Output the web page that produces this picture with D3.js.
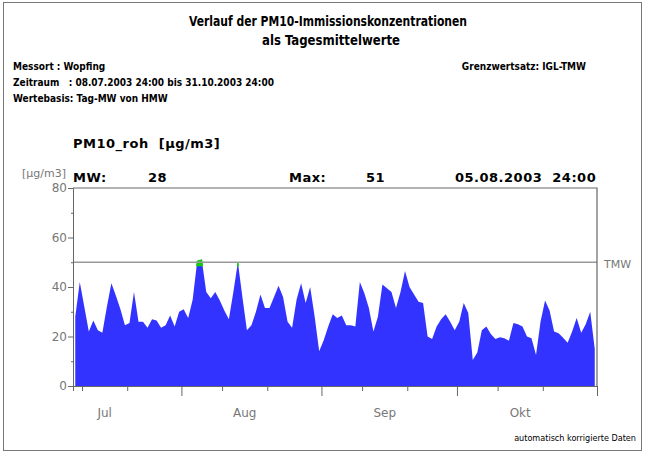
<!DOCTYPE html>
<meta charset="utf-8">
<script src="https://d3js.org/d3.v7.min.js"></script>
<style>
  body { margin: 0; background: #fff; }
  .narrow { font-family: "Liberation Sans Narrow", "DejaVu Sans Condensed", sans-serif; font-weight: bold; }
</style>
<div id="my_dataviz"></div>
<script>
// daily means PM10 Wopfing, 08.07.2003 - 31.10.2003
var firstDay = "2003-07-08";
var pm10 = [
  28, 42, 32, 22, 26.5, 22.5, 21.5, 32, 41.5, 36.5, 31, 24.5, 25.5, 38, 26, 26, 23.5, 27, 26.5, 23.5,
  24.5, 28.5, 24, 30, 31, 27.5, 35, 50.5, 51, 38, 35.5, 38, 34.5, 30.5, 27, 38, 50, 36, 22.5, 24.5,
  30, 37, 31.5, 31.5, 36, 40.5, 36, 26, 23.5, 35, 41.5, 33.5, 40, 28, 14, 18.5, 24, 29, 27.5, 28.5,
  24.5, 24.5, 24, 42, 37.5, 31.5, 22, 28, 41, 39.5, 38, 31.5, 38, 46.5, 40, 37, 34, 33.5, 20, 19,
  24, 27, 29, 26, 22.5, 26, 33.5, 29.5, 10.5, 13.5, 22.5, 24, 21, 19, 19.7, 19.3, 18.3, 25.5, 25, 24,
  20, 19.3, 12.5, 26, 34.5, 30.5, 22, 21.3, 19.5, 17.5, 22, 27.5, 21.5, 25, 30, 15
];
var mwValue = 28;
var maxValue = 51;
var maxTime = "05.08.2003  24:00";
var limitTMW = 50;
var yTicks = [0, 20, 40, 60, 80];
var monthNames = ["Jul", "Aug", "Sep", "Okt"];
var headerLeft = ["Messort : Wopfing", "Zeitraum   : 08.07.2003 24:00 bis 31.10.2003 24:00", "Wertebasis: Tag-MW von HMW"];

var parse = d3.timeParse("%Y-%m-%d");
var start = parse(firstDay);
var data = pm10.map(function(v, i) {
  return { date: d3.timeHour.offset(d3.timeDay.offset(start, i), 12), value: v };
});

var W = 650, H = 452;
var margin = {top: 188, right: 53, bottom: 66, left: 73},
    width = W - margin.left - margin.right,
    height = H - margin.top - margin.bottom;

var svg = d3.select("#my_dataviz")
  .append("svg")
    .attr("width", W)
    .attr("height", H);

// outer frame
svg.append("rect")
  .attr("x", 3.5).attr("y", 2.5).attr("width", 638).attr("height", 448)
  .attr("fill", "none").attr("stroke", "#777").attr("stroke-width", 1);

// header
svg.append("text").attr("class", "narrow")
  .attr("x", 328).attr("y", 26).attr("text-anchor", "middle")
  .attr("textLength", 278).attr("lengthAdjust", "spacingAndGlyphs")
  .style("font-size", "14px")
  .text("Verlauf der PM10-Immissionskonzentrationen");
svg.append("text").attr("class", "narrow")
  .attr("x", 331).attr("y", 45).attr("text-anchor", "middle")
  .attr("textLength", 138).attr("lengthAdjust", "spacingAndGlyphs")
  .style("font-size", "14px")
  .text("als Tagesmittelwerte");

svg.selectAll("hl")
  .data(headerLeft)
  .enter()
  .append("text").attr("class", "narrow")
    .attr("x", 13)
    .attr("y", function(d, i) { return 70 + i * 16; })
    .style("font-size", "10px")
    .attr("xml:space", "preserve")
    .text(function(d) { return d; });

svg.append("text").attr("class", "narrow")
  .attr("x", 586).attr("y", 70).attr("text-anchor", "end")
  .style("font-size", "10px")
  .text("Grenzwertsatz: IGL-TMW");

svg.append("text")
  .attr("x", 73).attr("y", 148)
  .style("font-family", "DejaVu Sans, sans-serif")
  .style("font-weight", "bold")
  .style("font-size", "13px")
  .style("letter-spacing", "0.5px")
  .attr("xml:space", "preserve")
  .text("PM10_roh  [µg/m3]");

// stats line
svg.append("text")
  .attr("x", 22).attr("y", 177)
  .style("font-family", "DejaVu Sans, sans-serif")
  .style("font-size", "11px").attr("fill", "#777")
  .text("[µg/m3]");

var stats = [
  {t: "MW:", x: 73}, {t: mwValue, x: 148},
  {t: "Max:", x: 289}, {t: maxValue, x: 366},
  {t: maxTime, x: 455}
];
svg.selectAll("st")
  .data(stats)
  .enter()
  .append("text")
    .attr("x", function(d) { return d.x; })
    .attr("y", 182)
    .attr("xml:space", "preserve")
    .style("font-family", "DejaVu Sans, sans-serif")
    .style("font-weight", "bold")
    .style("font-size", "13px")
    .style("letter-spacing", "0.5px")
    .text(function(d) { return d.t; });

var g = svg.append("g")
  .attr("transform", "translate(" + margin.left + "," + margin.top + ")");

var x = d3.scaleTime()
  .domain([start, d3.timeDay.offset(start, pm10.length)])
  .range([0, width]);

var y = d3.scaleLinear()
  .domain([0, 80])
  .range([height, 0]);

// area
var area = d3.area()
  .x(function(d) { return x(d.date); })
  .y0(y(0))
  .y1(function(d) { return y(d.value); });

g.append("path")
  .datum(data)
  .attr("fill", "#3333ff")
  .attr("d", area);

// exceedance tips in green
g.append("clipPath").attr("id", "over")
  .append("rect")
    .attr("x", 0).attr("y", 0)
    .attr("width", width).attr("height", y(limitTMW - 1.6));
g.append("path")
  .datum(data)
  .attr("fill", "#11cc11")
  .attr("stroke", "#11cc11").attr("stroke-width", 1)
  .attr("clip-path", "url(#over)")
  .attr("d", area);

// limit line
g.append("line")
  .attr("x1", 0).attr("x2", width)
  .attr("y1", y(limitTMW)).attr("y2", y(limitTMW))
  .attr("stroke", "#999").attr("stroke-width", 1.5);
g.append("text")
  .attr("x", width + 7).attr("y", y(limitTMW) + 6)
  .style("font-family", "DejaVu Sans, sans-serif")
  .style("font-size", "11px").attr("fill", "#777")
  .text("TMW");

// frame of plot
g.append("path")
  .attr("d", "M0,0H" + width + "V" + height)
  .attr("fill", "none").attr("stroke", "#666").attr("stroke-width", 1.2);

// y axis
var yAxis = g.append("g")
  .call(d3.axisLeft(y).tickValues(yTicks).tickSize(5).tickPadding(1));
yAxis.select(".domain").attr("stroke", "#666");
yAxis.selectAll(".tick line").attr("stroke", "#666");
yAxis.selectAll("text")
  .attr("fill", "#777")
  .style("font-family", "DejaVu Sans, sans-serif")
  .style("font-size", "12px");
g.append("g")
  .call(d3.axisLeft(y).tickValues([10, 30, 50, 70]).tickSize(2).tickFormat(""))
  .call(function(s) { s.select(".domain").remove(); s.selectAll("line").attr("stroke", "#666"); });

// x axis
var months = d3.timeMonth.range(d3.timeMonth.ceil(start), d3.timeDay.offset(start, pm10.length + 1));
var minorDays = d3.timeDay.range(start, d3.timeDay.offset(start, pm10.length))
  .filter(function(d) { return d.getDate() === 10 || d.getDate() === 20; });

var xMinor = g.append("g")
  .attr("transform", "translate(0," + height + ")")
  .call(d3.axisBottom(x).tickValues(minorDays).tickSize(5).tickFormat(""));
xMinor.select(".domain").attr("stroke", "#666");
xMinor.selectAll("line").attr("stroke", "#666");

g.append("g")
  .attr("transform", "translate(0," + height + ")")
  .call(d3.axisBottom(x).tickValues(months).tickSize(10).tickFormat(""))
  .call(function(s) { s.select(".domain").remove(); s.selectAll("line").attr("stroke", "#666"); });

var mids = monthNames.map(function(m, i) { return new Date(2003, 6 + i, 15); });
g.selectAll("mlab")
  .data(mids)
  .enter()
  .append("text")
    .attr("x", function(d) { return x(d); })
    .attr("y", height + 31)
    .attr("text-anchor", "middle")
    .attr("fill", "#777")
    .style("font-family", "DejaVu Sans, sans-serif")
    .style("font-size", "12px")
    .text(function(d, i) { return monthNames[i]; });

// footer
svg.append("text").attr("class", "narrow")
  .attr("x", 636).attr("y", 441).attr("text-anchor", "end")
  .style("font-size", "9px").style("font-weight", "normal")
  .text("automatisch korrigierte Daten");
</script>
